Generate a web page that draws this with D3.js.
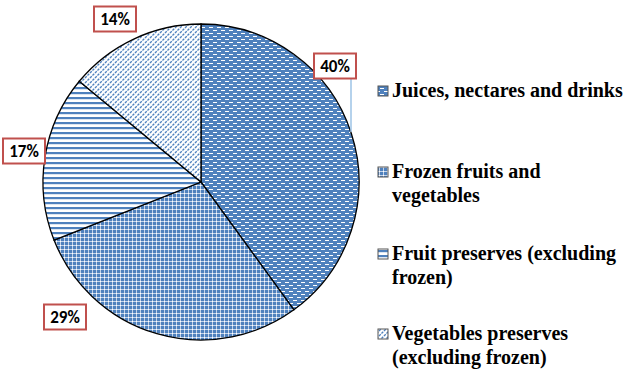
<!DOCTYPE html>
<html>
<head>
<meta charset="utf-8">
<script src="https://cdn.jsdelivr.net/npm/d3@7/dist/d3.min.js"></script>
<style>
  html, body { margin: 0; padding: 0; background: #fff; }
  svg { display: block; }
</style>
</head>
<body>
<svg id="chart" width="627" height="369"></svg>
<script>
// Market share by product group (%)
const categories = [
  "Juices, nectares and drinks",
  "Frozen fruits and vegetables",
  "Fruit preserves (excluding frozen)",
  "Vegetables preserves (excluding frozen)"
];
const values = [40, 29, 17, 14];
const valueLabels = ["40%", "29%", "17%", "14%"];
// Legend text broken into lines
const legendLines = [
  ["Juices, nectares and drinks"],
  ["Frozen fruits and", "vegetables"],
  ["Fruit preserves (excluding", "frozen)"],
  ["Vegetables preserves", "(excluding frozen)"]
];

const BLUE = "#4f81bd";
const svg = d3.select("#chart");
const defs = svg.append("defs");

// Fill patterns, one per slice
function pat(id, w, h) {
  return defs.append("pattern").attr("id", id)
    .attr("patternUnits", "userSpaceOnUse").attr("width", w).attr("height", h);
}
// brick of short white dashes on blue
let p = pat("p0", 8, 6);
p.append("rect").attr("width", 8).attr("height", 6).attr("fill", BLUE);
p.append("rect").attr("x", 0).attr("y", 1).attr("width", 4).attr("height", 1).attr("fill", "#fff");
p.append("rect").attr("x", 4).attr("y", 4).attr("width", 4).attr("height", 1).attr("fill", "#fff");
// small weave grid
p = pat("p1", 4, 4);
p.append("rect").attr("width", 4).attr("height", 4).attr("fill", BLUE);
p.append("rect").attr("x", 0).attr("y", 3).attr("width", 4).attr("height", 1).attr("fill", "#c4d4ea");
p.append("rect").attr("x", 3).attr("y", 0).attr("width", 1).attr("height", 4).attr("fill", "#c4d4ea");
p.append("rect").attr("x", 3).attr("y", 3).attr("width", 1).attr("height", 1).attr("fill", "#fff");
// horizontal stripes
p = pat("p2", 6, 5);
p.append("rect").attr("width", 6).attr("height", 5).attr("fill", "#fff");
p.append("rect").attr("x", 0).attr("y", 0).attr("width", 6).attr("height", 2.2).attr("fill", BLUE);
// light upward diagonal dashes
p = pat("p3", 5, 5);
p.append("rect").attr("width", 5).attr("height", 5).attr("fill", "#fff");
p.append("path").attr("d", "M-1,6 L6,-1 M-1,1 L1,-1 M4,6 L6,4")
  .attr("stroke", BLUE).attr("stroke-width", 1.3).attr("stroke-dasharray", "2.5,1");

const cx = 201, cy = 182, R = 158;
const pie = d3.pie().sort(null).value(d => d)(values);
const arc = d3.arc().innerRadius(0).outerRadius(R);

const g = svg.append("g").attr("transform", `translate(${cx},${cy})`);
g.selectAll("path.slice").data(pie).enter().append("path")
  .attr("class", "slice")
  .attr("d", arc)
  .attr("fill", (d, i) => `url(#p${i})`)
  .attr("stroke", "#000").attr("stroke-width", 1.3);

// Leader line for the largest slice
const leaderX = 351;
svg.append("line").attr("x1", leaderX).attr("x2", leaderX)
  .attr("y1", 79).attr("y2", 132)
  .attr("stroke", "#9dc3e6").attr("stroke-width", 1.5);

// Value labels in boxes, placed relative to the pie centre
const labelPos = [
  { dx: 134, dy: -116 },   // 40%
  { dx: -136, dy: 135 },   // 29%
  { dx: -177, dy: -31 },   // 17%
  { dx: -86, dy: -163 }    // 14%
];
valueLabels.forEach((t, i) => {
  const x = cx + labelPos[i].dx, y = cy + labelPos[i].dy;
  const w = 42, h = 25;
  svg.append("rect").attr("x", x - w / 2).attr("y", y - h / 2)
    .attr("width", w).attr("height", h)
    .attr("fill", "#fff").attr("stroke", "#c0504d").attr("stroke-width", 2);
  svg.append("text").attr("x", x).attr("y", y + 6)
    .attr("text-anchor", "middle")
    .attr("font-family", "Carlito, Calibri, 'Open Sans', Arial, sans-serif")
    .attr("font-weight", "bold").attr("font-size", 17).attr("fill", "#000")
    .text(t);
});

// Legend
const legY = [97, 178, 260, 340];
const lg = svg.append("g");
legendLines.forEach((lines, i) => {
  const y = legY[i];
  lg.append("rect").attr("x", 378).attr("y", y - 11).attr("width", 10).attr("height", 10)
    .attr("fill", `url(#p${i})`).attr("stroke", "#555").attr("stroke-width", 1);
  const txt = lg.append("text")
    .attr("font-family", "'Liberation Serif', 'Times New Roman', Times, serif")
    .attr("font-weight", "bold").attr("font-size", 20).attr("fill", "#000");
  lines.forEach((ln, k) => {
    txt.append("tspan").attr("x", 392).attr("y", y + k * 24).text(ln);
  });
});
</script>
</body>
</html>
